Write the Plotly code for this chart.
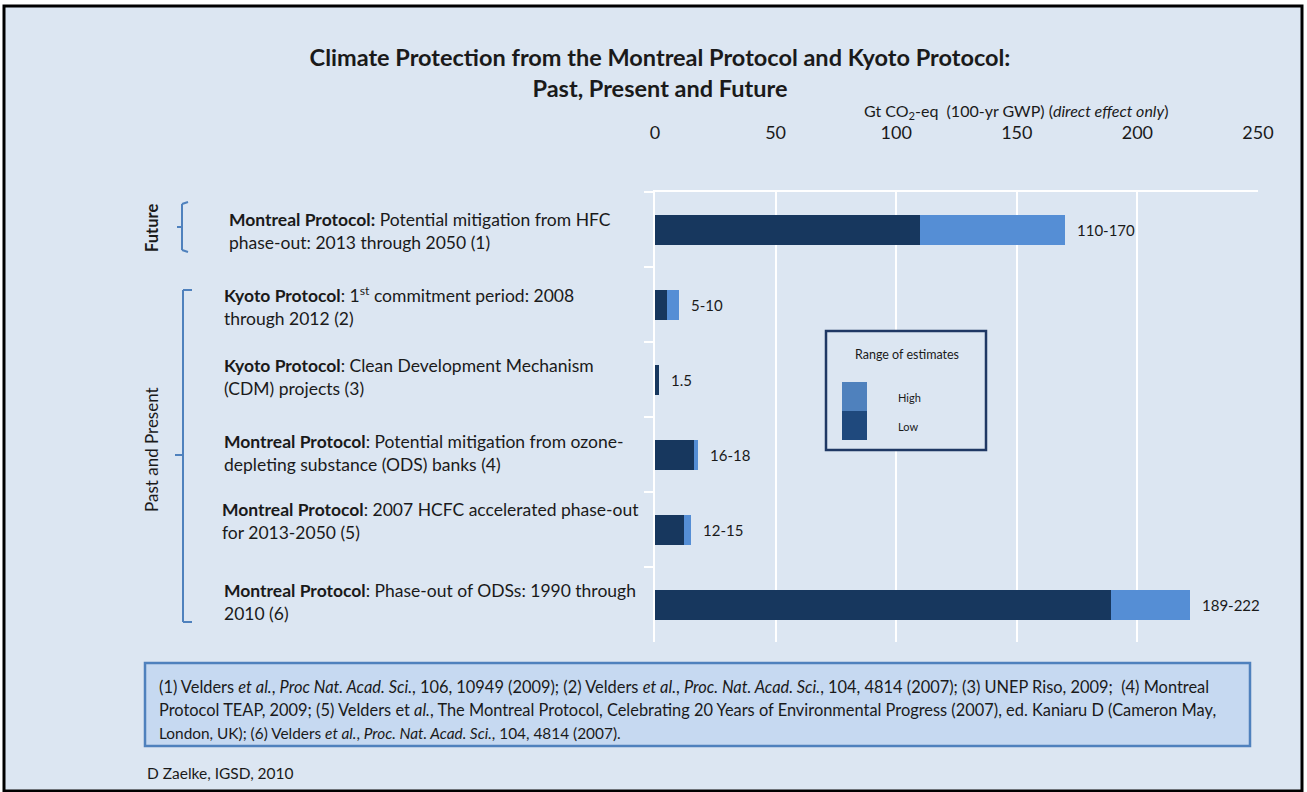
import plotly.graph_objects as go

# ---------------- data ----------------
categories = [
    "HFC phase-out 2013-2050",
    "Kyoto 1st commitment period",
    "Kyoto CDM projects",
    "ODS banks",
    "2007 HCFC accelerated phase-out",
    "Phase-out of ODSs 1990-2010",
]
label_texts = [
    "<b>Montreal Protocol:</b> Potential mitigation from HFC<br>phase-out: 2013 through 2050 (1)",
    "<b>Kyoto Protocol</b>: 1<sup>st</sup> commitment period: 2008<br>through 2012 (2)",
    "<b>Kyoto Protocol</b>: Clean Development Mechanism<br>(CDM) projects (3)",
    "<b>Montreal Protocol</b>: Potential mitigation from ozone-<br>depleting substance (ODS) banks (4)",
    "<b>Montreal Protocol</b>: 2007 HCFC accelerated phase-out<br>for 2013-2050 (5)",
    "<b>Montreal Protocol</b>: Phase-out of ODSs: 1990 through<br>2010 (6)",
]
low_values = [110, 5, 1.5, 16, 12, 189]
high_values = [170, 10, 1.5, 18, 15, 222]
range_labels = ["110-170", "5-10", "1.5", "16-18", "12-15", "189-222"]
x_ticks = [0, 50, 100, 150, 200, 250]

footnote_lines = [
    "(1) Velders <i>et al.</i>, <i>Proc Nat. Acad. Sci.</i>, 106, 10949 (2009); (2) Velders <i>et al.</i>, <i>Proc. Nat. Acad. Sci.</i>, 104, 4814 (2007); (3) UNEP Riso, 2009;  (4) Montreal",
    "Protocol TEAP, 2009; (5) Velders et <i>al.</i>, The Montreal Protocol, Celebrating 20 Years of Environmental Progress (2007), ed. Kaniaru D (Cameron May,",
    "London, UK); (6) Velders <i>et al.</i>, <i>Proc. Nat. Acad. Sci.</i>, 104, 4814 (2007).",
]

# ---------------- layout helpers ----------------
FONT = "Lato, Open Sans, sans-serif"
TXT = "#1a1a1a"
L, R, T, B = 655, 1258, 192, 642
W, H = R - L, B - T
def px(x):
    return (x - L) / W
def py(y):
    return (B - y) / H

DARK = "#17375e"
LIGHT = "#558ed5"
BG = "#dce6f2"
BRACKET = "#4f81bd"

extra = [h - l for h, l in zip(high_values, low_values)]

fig = go.Figure()
fig.add_trace(go.Bar(y=categories, x=low_values, orientation="h", name="Low",
                     marker=dict(color=DARK, line=dict(width=0)), width=0.4,
                     hoverinfo="x+y"))
fig.add_trace(go.Bar(y=categories, x=extra, orientation="h", name="High",
                     marker=dict(color=LIGHT, line=dict(width=0)), width=0.4,
                     hoverinfo="x+y"))

annotations = []
label_yshift = [-1, -1, 3, 2, 9, 3]
label_x = [227, 222, 222, 222, 220, 222]
for cat, txt, ys, lx in zip(categories, label_texts, label_yshift, label_x):
    annotations.append(dict(xref="paper", yref="y", x=px(lx), y=cat, text=txt,
                            showarrow=False, xanchor="left", yanchor="middle",
                            align="left", yshift=ys,
                            font=dict(family=FONT, size=17.5, color=TXT)))
for cat, hv, rl in zip(categories, high_values, range_labels):
    annotations.append(dict(xref="x", yref="y", x=hv, y=cat, text=rl,
                            showarrow=False, xanchor="left", yanchor="middle",
                            xshift=10,
                            font=dict(family=FONT, size=15, color=TXT)))

# axis title
annotations.append(dict(xref="paper", yref="paper", x=px(862), y=py(111),
                        text="Gt CO<sub>2</sub>-eq  (100-yr GWP) (<i>direct effect only</i>)",
                        showarrow=False, xanchor="left", yanchor="middle",
                        font=dict(family=FONT, size=16, color=TXT)))
# bracket labels
annotations.append(dict(xref="paper", yref="paper", x=px(152), y=py(228),
                        text="<b>Future</b>", textangle=-90, showarrow=False,
                        xanchor="center", yanchor="middle",
                        font=dict(family=FONT, size=16.5, color=TXT)))
annotations.append(dict(xref="paper", yref="paper", x=px(152), y=py(450),
                        text="Past and Present", textangle=-90, showarrow=False,
                        xanchor="center", yanchor="middle",
                        font=dict(family=FONT, size=17, color=TXT)))
# legend text
annotations.append(dict(xref="paper", yref="paper", x=px(907), y=py(354),
                        text="Range of estimates", showarrow=False,
                        xanchor="center", yanchor="middle",
                        font=dict(family=FONT, size=12.5, color=TXT)))
annotations.append(dict(xref="paper", yref="paper", x=px(896), y=py(397),
                        text="High", showarrow=False, xanchor="left", yanchor="middle",
                        font=dict(family=FONT, size=11, color=TXT)))
annotations.append(dict(xref="paper", yref="paper", x=px(896), y=py(426),
                        text="Low", showarrow=False, xanchor="left", yanchor="middle",
                        font=dict(family=FONT, size=11, color=TXT)))
# footnotes
foot_sizes = [16.4, 16.4, 15.4]
for i, (line, fs) in enumerate(zip(footnote_lines, foot_sizes)):
    annotations.append(dict(xref="paper", yref="paper", x=px(157), y=py(686 + 23.5 * i),
                            text=line, showarrow=False, xanchor="left", yanchor="middle",
                            font=dict(family=FONT, size=fs, color=TXT)))
annotations.append(dict(xref="paper", yref="paper", x=px(145), y=py(773),
                        text="D Zaelke, IGSD, 2010", showarrow=False,
                        xanchor="left", yanchor="middle",
                        font=dict(family=FONT, size=15.5, color=TXT)))

shapes = [
    # outer frame
    dict(type="rect", xref="paper", yref="paper", x0=px(4), x1=px(1302), y0=py(791), y1=py(6),
         fillcolor=BG, line=dict(color="black", width=3), layer="below"),
    # footnote box
    dict(type="rect", xref="paper", yref="paper", x0=px(145), x1=px(1250), y0=py(746), y1=py(663),
         fillcolor="#c6d9f1", line=dict(color=BRACKET, width=2.5), layer="below"),
    # legend box
    dict(type="rect", xref="paper", yref="paper", x0=px(826), x1=px(986), y0=py(450), y1=py(331),
         fillcolor=BG, line=dict(color="#1f3864", width=2.5), layer="above"),
    dict(type="rect", xref="paper", yref="paper", x0=px(842), x1=px(867), y0=py(411), y1=py(382),
         fillcolor="#4f81bd", line=dict(width=0), layer="above"),
    dict(type="rect", xref="paper", yref="paper", x0=px(842), x1=px(867), y0=py(440), y1=py(411),
         fillcolor="#1f497d", line=dict(width=0), layer="above"),
]
# brackets
def seg(x0, y0, x1, y1):
    return dict(type="line", xref="paper", yref="paper", x0=px(x0), y0=py(y0),
                x1=px(x1), y1=py(y1), line=dict(color=BRACKET, width=2))
shapes += [
    seg(182, 204, 182, 250), seg(182, 204, 188, 202), seg(182, 250, 188, 252),
    seg(182, 227, 177, 227),
    seg(183, 290, 183, 622), seg(183, 290, 192, 290), seg(183, 622, 192, 622),
    seg(183, 455, 175, 455),
]

fig.update_layout(
    width=1307, height=792,
    margin=dict(l=L, r=1307 - R, t=T, b=792 - B, pad=0),
    paper_bgcolor="white", plot_bgcolor="rgba(0,0,0,0)",
    barmode="stack", bargap=0.6, showlegend=False,
    title=dict(text="<b>Climate Protection from the Montreal Protocol and Kyoto Protocol:<br>Past, Present and Future</b>",
               xref="container", yref="container", x=660 / 1307, y=1 - 66 / 792,
               xanchor="center", yanchor="middle",
               font=dict(family=FONT, size=23.5, color=TXT)),
    xaxis=dict(side="top", range=[0, 250], tickvals=x_ticks, ticktext=[str(v) for v in x_ticks],
               showgrid=True, gridcolor="white", gridwidth=2, zeroline=False,
               showline=True, linecolor="white", linewidth=2, ticks="",
               ticklabelstandoff=44,
               tickfont=dict(family=FONT, size=18, color=TXT)),
    yaxis=dict(categoryorder="array", categoryarray=categories, autorange="reversed",
               showticklabels=False, showgrid=False, zeroline=False,
               showline=True, linecolor="white", linewidth=2,
               ticks="outside", tickson="boundaries", ticklen=9, tickcolor="white", tickwidth=2),
    annotations=annotations, shapes=shapes,
)

fig.write_html("out.html", config={"displayModeBar": False},
               post_script="document.body.style.margin='0px';document.body.style.overflow='hidden';")
